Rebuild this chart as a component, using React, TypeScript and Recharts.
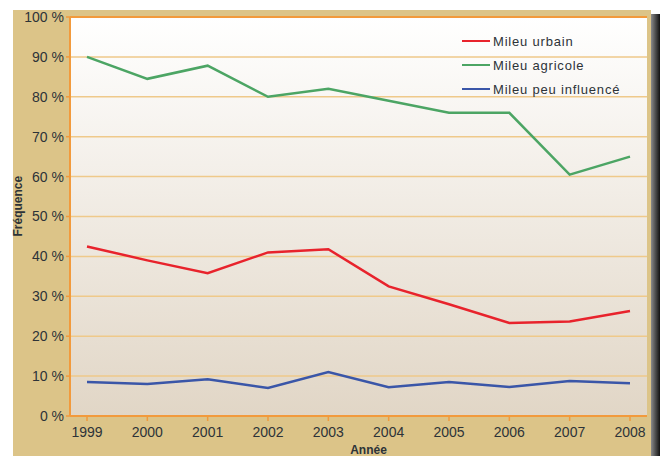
import { CartesianGrid, Line, LineChart, ReferenceLine, XAxis, YAxis } from "recharts";

const years = ["1999", "2000", "2001", "2002", "2003", "2004", "2005", "2006", "2007", "2008"];
const urbain = [42.5, 39, 35.8, 41, 41.8, 32.5, 28, 23.3, 23.7, 26.3];
const agricole = [90, 84.5, 87.8, 80, 82, 79, 76, 76, 60.5, 65];
const peuInfluence = [8.5, 8, 9.2, 7, 11, 7.2, 8.5, 7.3, 8.8, 8.2];
const yTicks = [0, 10, 20, 30, 40, 50, 60, 70, 80, 90, 100];

const series = [
  { key: "urbain", name: "Mileu urbain", color: "#e8232c" },
  { key: "agricole", name: "Mileu agricole", color: "#4ca564" },
  { key: "peu", name: "Mileu peu influencé", color: "#3a56a8" },
];

const rows = years.map((year, i) => ({
  year,
  urbain: urbain[i],
  agricole: agricole[i],
  peu: peuInfluence[i],
}));

const orange = "#f29a3c";
const gridColor = "#efc98a";
const textColor = "#2d3338";
const font = "'Liberation Sans', Arial, sans-serif";

function LegendBox() {
  return (
    <div
      style={{
        position: "absolute",
        left: 462,
        top: 29,
        fontFamily: font,
        fontSize: 13,
        letterSpacing: 0.8,
        color: textColor,
      }}
    >
      {series.map((s) => (
        <div key={s.key} style={{ display: "flex", alignItems: "center", height: 24 }}>
          <span style={{ display: "inline-block", width: 28, height: 2, background: s.color, marginRight: 3 }} />
          <span>{s.name}</span>
        </div>
      ))}
    </div>
  );
}

export default function App() {
  return (
    <div style={{ position: "relative", width: 660, height: 456, background: "#fff", overflow: "hidden" }}>
      <style>{"body{margin:0}"}</style>
      <div style={{ position: "absolute", left: 13, top: 10, width: 638, height: 446, background: "#dcc488" }} />
      <div
        style={{
          position: "absolute",
          left: 651,
          top: 14,
          width: 9,
          height: 442,
          background: "linear-gradient(to right, #8a8a8a, #111)",
        }}
      />
      <div style={{ position: "absolute", left: 0, top: 0 }}>
        <LineChart
          width={660}
          height={456}
          data={rows}
          margin={{ top: 17, right: 13, bottom: 0, left: 0 }}
          style={{ fontFamily: font }}
        >
          <defs>
            <linearGradient id="plotBg" x1="0" y1="0" x2="0" y2="1">
              <stop offset="0%" stopColor="#ffffff" />
              <stop offset="100%" stopColor="#e1d6c6" />
            </linearGradient>
          </defs>
          <CartesianGrid vertical={false} stroke={gridColor} strokeWidth={1.5} fill="url(#plotBg)" />
          <XAxis
            dataKey="year"
            height={40}
            padding={{ left: 17, right: 17 }}
            axisLine={{ stroke: orange, strokeWidth: 2 }}
            tickLine={{ stroke: orange, strokeWidth: 1.5 }}
            tickSize={5}
            tick={{ fill: textColor, fontSize: 14, dy: 4 }}
            label={{ value: "Année", position: "insideBottom", offset: 2, dx: 10, fill: textColor, fontSize: 12, fontWeight: "bold" }}
          />
          <YAxis
            width={70}
            domain={[0, 100]}
            ticks={yTicks}
            interval={0}
            tickFormatter={(v: number) => `${v} %`}
            axisLine={{ stroke: orange, strokeWidth: 2 }}
            tickLine={{ stroke: orange, strokeWidth: 1.5 }}
            tickSize={4}
            tick={{ fill: textColor, fontSize: 14 }}
            label={{ value: "Fréquence", angle: -90, position: "insideLeft", offset: 18, dy: 20, fill: textColor, fontSize: 12, fontWeight: "bold" }}
          />
          <YAxis
            yAxisId="right"
            orientation="right"
            width={0}
            domain={[0, 100]}
            tick={false}
            tickLine={false}
            axisLine={{ stroke: orange, strokeWidth: 2 }}
          />
          <ReferenceLine y={100} stroke={orange} strokeWidth={2} />
          {series.map((s) => (
            <Line
              key={s.key}
              type="linear"
              dataKey={s.key}
              name={s.name}
              stroke={s.color}
              strokeWidth={2.5}
              dot={false}
              activeDot={false}
              isAnimationActive={false}
            />
          ))}
        </LineChart>
      </div>
      <LegendBox />
    </div>
  );
}
